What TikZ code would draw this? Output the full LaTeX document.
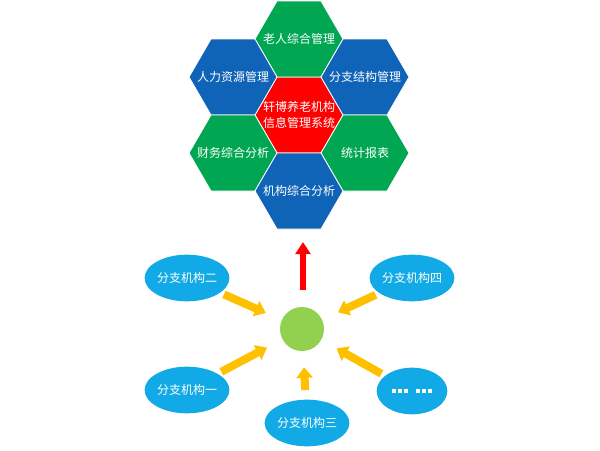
\documentclass[tikz,border=0pt]{standalone}
\usepackage{fontspec}
\setmainfont{Noto Sans CJK SC}
\usetikzlibrary{shapes.geometric,arrows.meta}
\definecolor{hx_green}{RGB}{0, 166, 81}
\definecolor{hx_blue}{RGB}{16, 100, 184}
\definecolor{hx_red}{RGB}{255, 0, 0}
\definecolor{br_blue}{RGB}{18, 170, 230}
\definecolor{hub_green}{RGB}{146, 208, 80}
\definecolor{ar_yellow}{RGB}{255, 192, 0}
\tikzstyle{hxt}=[text=white,font=\fontsize{9}{12}\selectfont,align=center,inner sep=0pt]
\tikzstyle{br}=[ellipse,fill=br_blue,minimum width=53pt,minimum height=35pt,
  inner sep=0pt,text=white,font=\fontsize{9}{11}\selectfont]
\tikzstyle{fat}=[draw=ar_yellow,line width=6pt,-{Triangle[width=12pt,length=8pt]}]
% flat-top hexagon, corner radius 44px
\newcommand{\hexcell}[3]{\fill[#3,draw=white,line width=0.6pt] (#1-44,#2) -- (#1-22,#2-38) -- (#1+22,#2-38)
  -- (#1+44,#2) -- (#1+22,#2+38) -- (#1-22,#2+38) -- cycle;}
\newcommand{\sqdot}{\rule{3pt}{3pt}\hspace{1.5pt}}

\begin{document}
\begin{tikzpicture}[x=0.75pt,y=-0.75pt]
            \useasboundingbox (0,0) rectangle (600,450);
            \hexcell{299}{115}{hx_red}
            \hexcell{299}{39}{hx_green}
            \hexcell{233}{77}{hx_blue}
            \hexcell{365}{77}{hx_blue}
            \hexcell{233}{153}{hx_green}
            \hexcell{365}{153}{hx_green}
            \hexcell{299}{191}{hx_blue}
            \node [hxt] (core) at (299, 115) {轩博养老机构\\信息管理系统};
            \node [hxt] (old) at (299, 39) {老人综合管理};
            \node [hxt] (hr) at (233, 77) {人力资源管理};
            \node [hxt] (org) at (365, 77) {分支结构管理};
            \node [hxt] (fin) at (233, 153) {财务综合分析};
            \node [hxt] (stat) at (365, 153) {统计报表};
            \node [hxt] (ana) at (299, 191) {机构综合分析};
            \node [circle,fill=hub_green,minimum size=33pt,inner sep=0pt] (hub) at (302, 329) {};
            \node [br] (b2) at (187, 278) {分支机构二};
            \node [br] (b4) at (412, 278) {分支机构四};
            \node [br] (b1) at (187, 390) {分支机构一};
            \node [br] (b3) at (307, 423) {分支机构三};
            \node [br] (bx) at (412, 391) {\sqdot\sqdot\sqdot\hspace{4pt}\sqdot\sqdot\sqdot};
            \coordinate (up) at (303, 242);
            \coordinate (base) at (303, 290);
            \draw [draw=hx_red,line width=5pt,-{Triangle[width=11pt,length=9pt]}] (base) to (up);
            \draw [fat,shorten <=3pt,shorten >=13pt] (b2) to (hub);
            \draw [fat,shorten <=3pt,shorten >=13pt] (b4) to (hub);
            \draw [fat,shorten <=3pt,shorten >=13pt] (b1) to (hub);
            \draw [fat,shorten <=3pt,shorten >=13pt] (bx) to (hub);
            \draw [fat,shorten <=7pt,shorten >=12pt] (b3) to (hub);
    \end{tikzpicture}
\end{document}
